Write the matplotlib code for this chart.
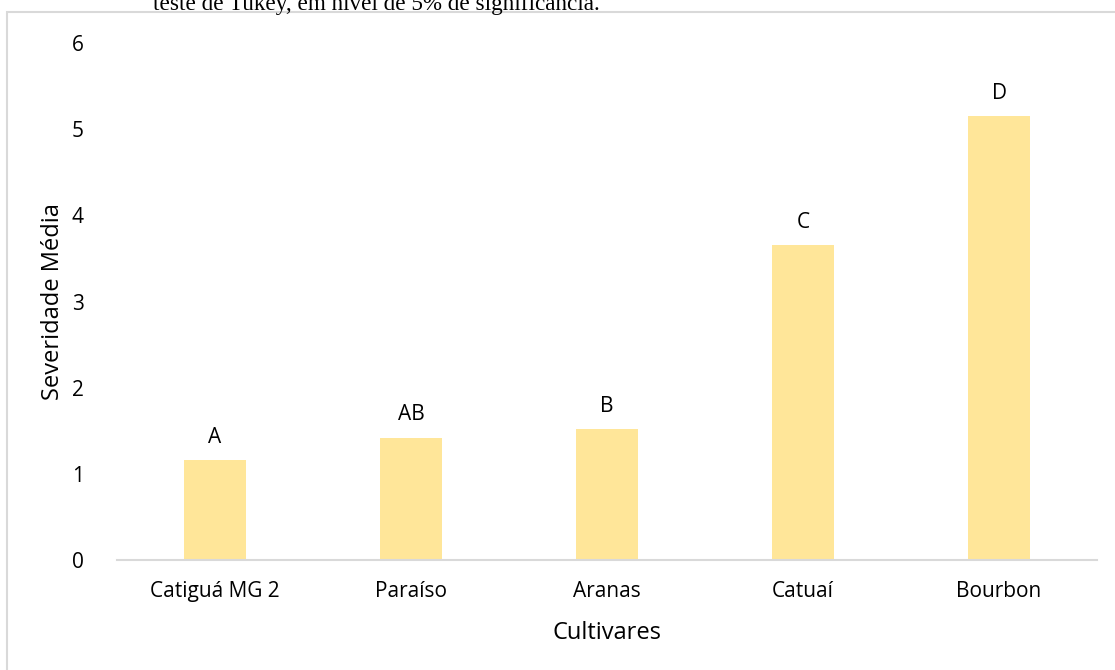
import matplotlib.pyplot as plt
from matplotlib.patches import Rectangle

cultivares = ['Catiguá MG 2', 'Paraíso', 'Aranas', 'Catuaí', 'Bourbon']
severidade = [1.16, 1.42, 1.52, 3.65, 5.15]
letras = ['A', 'AB', 'B', 'C', 'D']

plt.rcParams['font.family'] = ['Open Sans', 'DejaVu Sans']

fig = plt.figure(figsize=(11.15, 6.7), dpi=100)
# frame of the excel chart box
fig.patches.append(Rectangle((7 / 1115, -0.1), 1.2, 1 - 12 / 670 + 0.1,
                             transform=fig.transFigure, fill=False,
                             edgecolor='#d9d9d9', linewidth=1.5))
fig.text(153 / 1115, 1 - 10 / 670, 'teste de Tukey, em nível de 5% de significância.',
         family='Liberation Serif', fontsize=16.7, va='baseline', ha='left')

ax = fig.add_axes([117 / 1115, 1 - 560 / 670, 980 / 1115, (560 - 43) / 670])
x = range(len(cultivares))
ax.bar(x, severidade, width=0.32, color='#ffe699')
for i, (v, l) in enumerate(zip(severidade, letras)):
    ax.annotate(l, (i, v), xytext=(0, 9), textcoords='offset points',
                ha='center', va='bottom', fontsize=15)

ax.set_xlim(-0.5, len(cultivares) - 0.5)
ax.set_ylim(0, 6)
ax.set_xticks(list(x))
ax.set_xticklabels(cultivares, fontsize=15)
ax.set_yticks(range(7))
ax.tick_params(axis='y', length=0, pad=24, labelsize=15)
ax.tick_params(axis='x', length=0, pad=15)
for s in ['top', 'right', 'left']:
    ax.spines[s].set_visible(False)
ax.spines['bottom'].set_color('#d9d9d9')
ax.spines['bottom'].set_linewidth(1.5)
ax.set_xlabel('Cultivares', fontsize=17, labelpad=14)
ax.set_ylabel('Severidade Média', fontsize=17, labelpad=5)

fig.savefig('out.png', dpi=100)
